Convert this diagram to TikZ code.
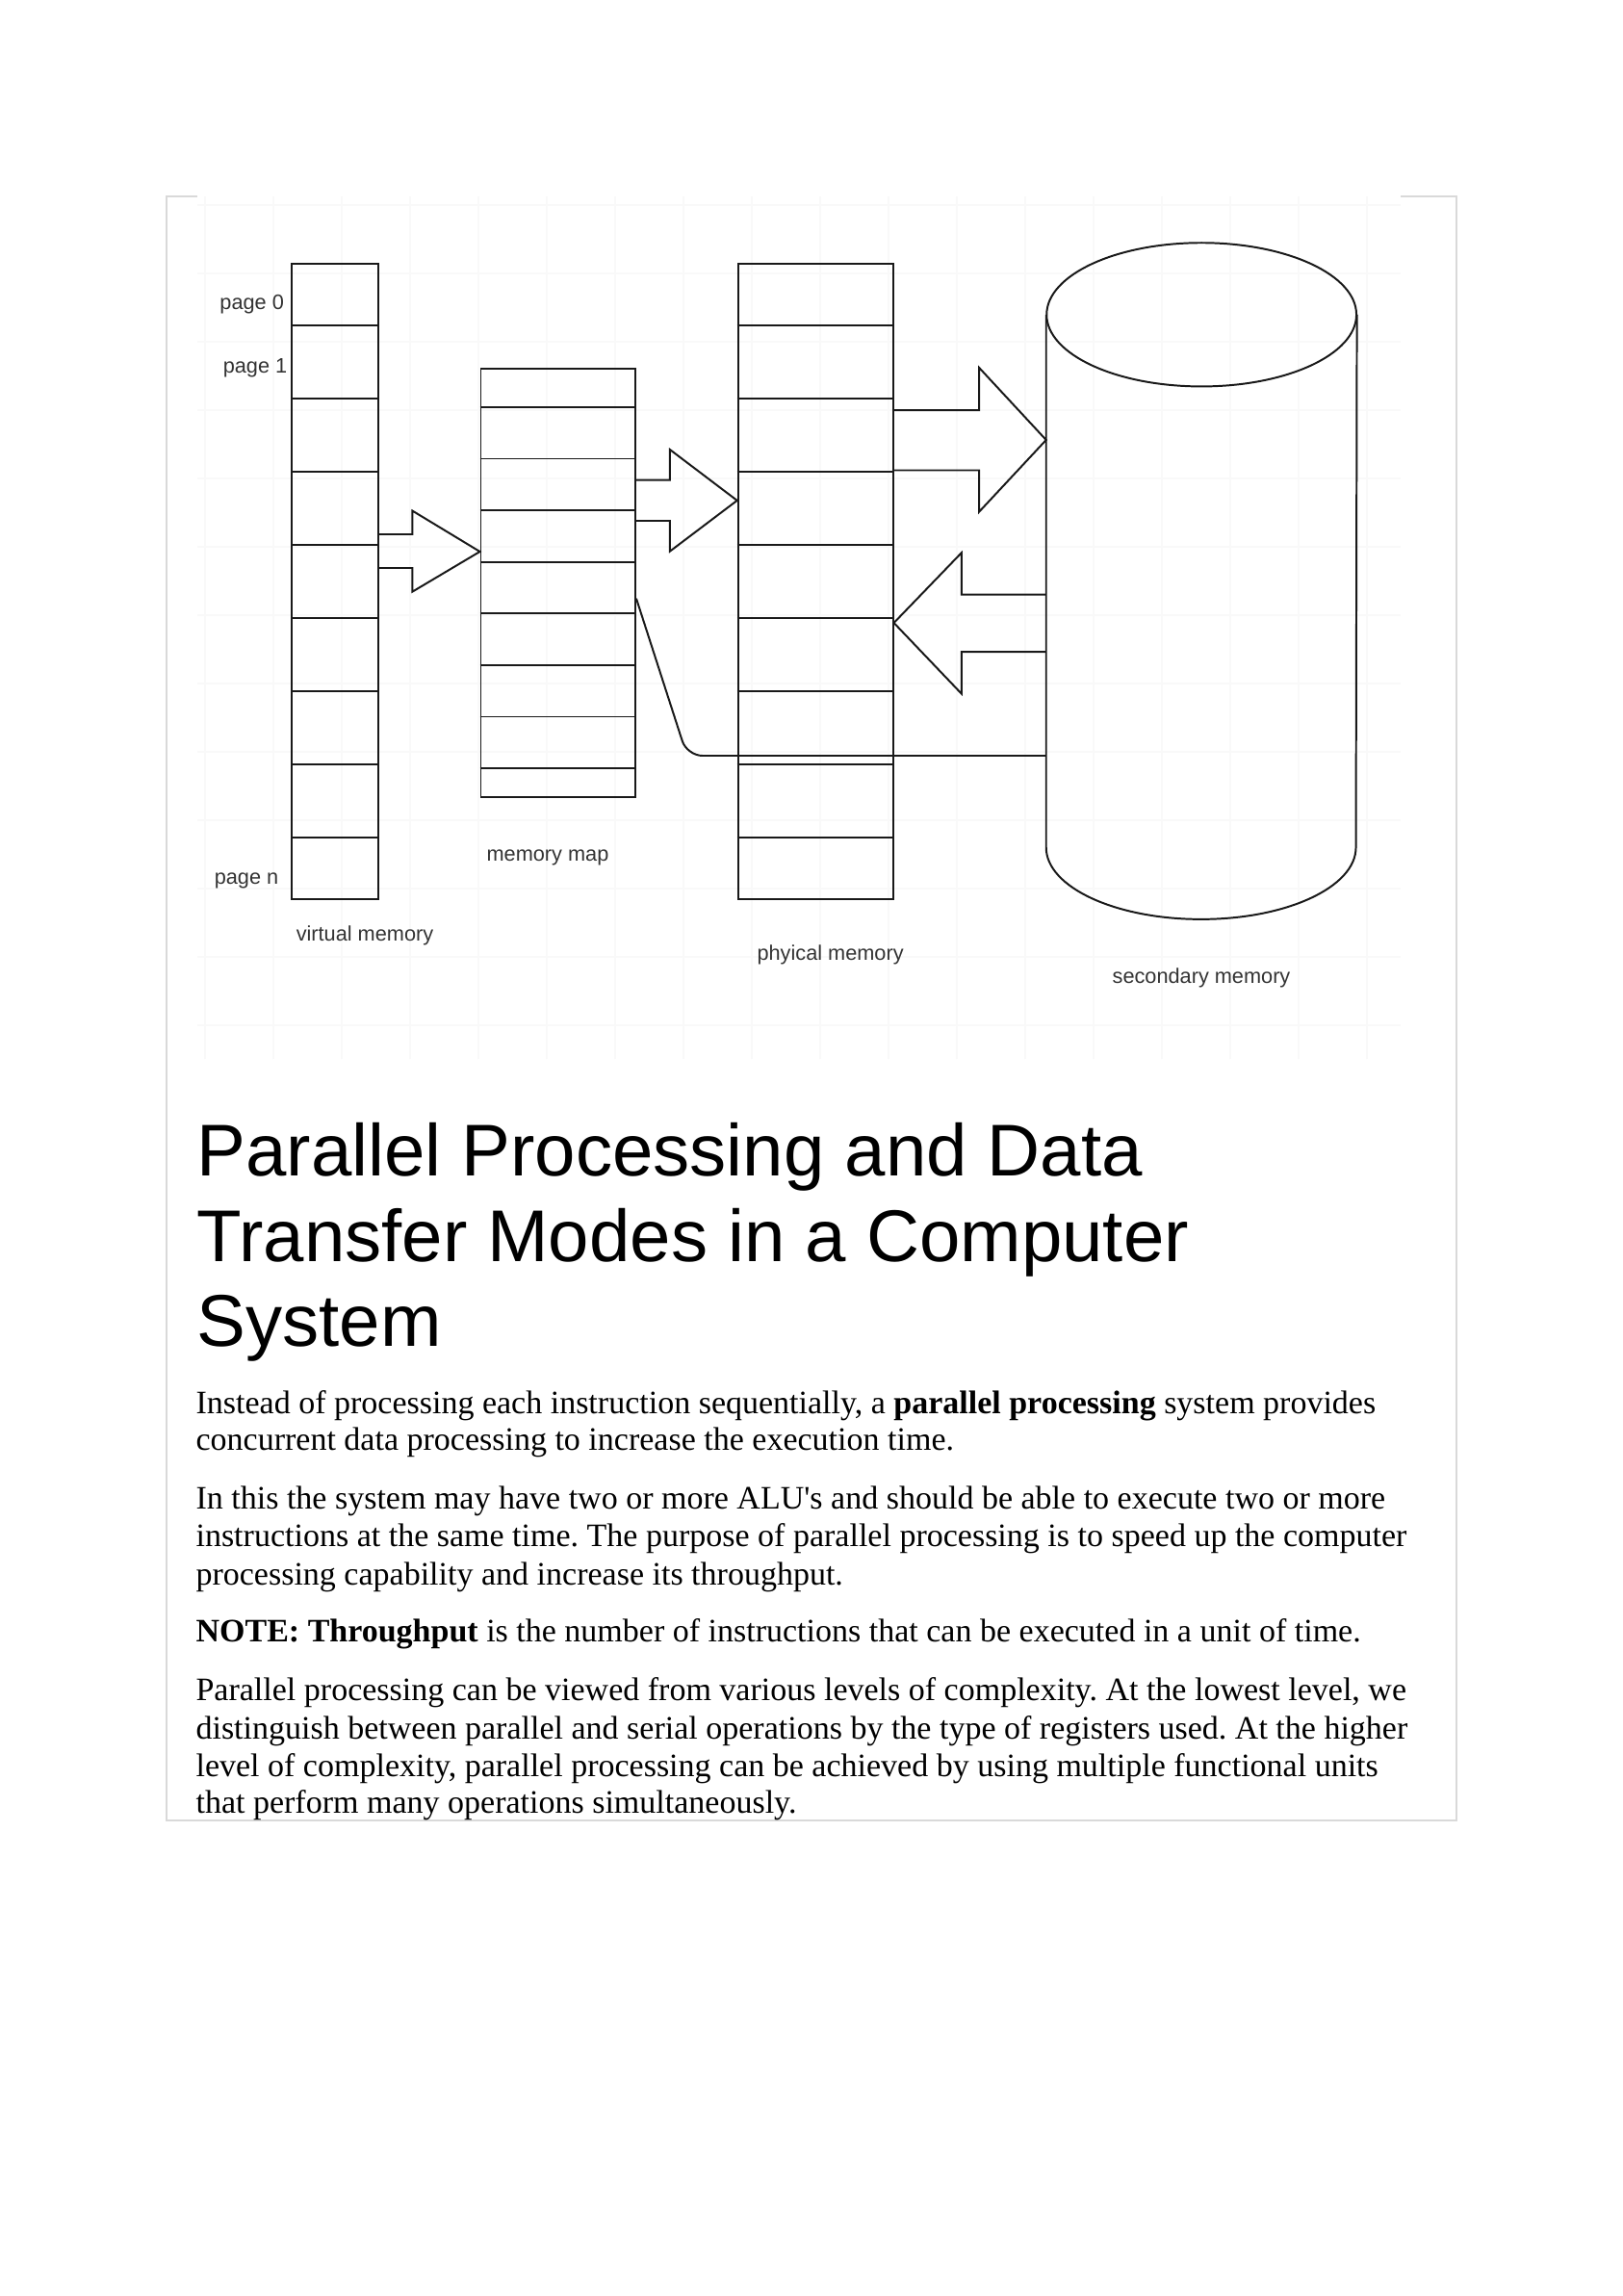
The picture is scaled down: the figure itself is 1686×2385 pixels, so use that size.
\documentclass[tikz,border=0pt]{standalone}
\usepackage{fontspec}
\setmainfont{Liberation Serif}
\newfontfamily\diagfont{Liberation Sans}
\usetikzlibrary{calc}

% one pixel of the page
\def\px{0.12456mm}

\begin{document}
\frenchspacing
\begin{tikzpicture}[x=\px, y=-\px,
        memcol/.style={draw=black!90, line width=0.7pt, inner sep=0pt},
        rowline/.style={draw=black!90, line width=0.7pt},
        blockarrow/.style={draw=black!90, line width=0.7pt, line join=miter},
        link/.style={draw=black!90, line width=0.7pt, rounded corners=2mm},
        lbl/.style={inner sep=0pt, text=black!80, font=\diagfont\fontsize{7.7}{9}\selectfont},
        headline/.style={anchor=base west, inner sep=0pt, font=\diagfont\fontsize{27}{31}\selectfont},
        bodyline/.style={anchor=base west, inner sep=0pt, font=\fontsize{12.05}{14}\selectfont}]

        \fill[white] (0,0) rectangle (1686,2385);
        \useasboundingbox (0,0) rectangle (1686,2385);

        % frame
        \draw[black!15, line width=0.8pt] (173,204) rectangle (1513,1891);
        \fill[white] (205,192) rectangle (1455,1100);
        \draw[black!2.5, line width=0.4pt, step=71*\px] (205,204) grid (1455,1100);

        % columns
        \node[memcol, minimum width=89.4*\px, minimum height=660*\px] (vm) at (348,603.7) {};
        \node[memcol, minimum width=160.5*\px, minimum height=445.3*\px] (mm) at (579.75,605.35) {};
        \node[memcol, minimum width=160.9*\px, minimum height=660*\px] (pm) at (847.15,604) {};
        \node[inner sep=0pt, minimum width=321.7*\px, minimum height=701.5*\px] (sm) at (1248.15,603.55) {};

        \foreach \y in {338,414,490,566,642,718,794,870}
        {
            \draw[rowline] (vm.west |- 0,\y) -- (vm.east |- 0,\y);
            \draw[rowline] (pm.west |- 0,\y) -- (pm.east |- 0,\y);
        }
        \foreach \y in {423,476.5,530,583.6,637.4,691,744.5,798.2}
            \draw[rowline] (mm.west |- 0,\y) -- (mm.east |- 0,\y);

        % cylinder
        \draw[black!90, line width=0.7pt] ($(sm.north)+(0,74.6)$) ellipse [x radius=160.9, y radius=74.6];
        \draw[black!90, line width=0.7pt] ($(sm.north west)+(0,74.6)$) -- ($(sm.south west)+(0,-74.6)$)
            arc[start angle=180, end angle=0, x radius=160.9, y radius=74.6] -- ($(sm.north east)+(0,74.6)$);

        % arrows
        \draw[blockarrow] (vm.east |- 0,555) -- (428.3,555) -- (428.3,530.5) -- (mm.west |- 0,573)
            -- (428.3,614.7) -- (428.3,590) -- (vm.east |- 0,590);
        \draw[blockarrow] (mm.east |- 0,498.7) -- (695.9,498.7) -- (695.9,467) -- (pm.west |- 0,519.9)
            -- (695.9,572.7) -- (695.9,541) -- (mm.east |- 0,541);
        \draw[blockarrow] (pm.east |- 0,426.2) -- (1017,426.2) -- (1017,381.8) -- (sm.west |- 0,457)
            -- (1017,531.8) -- (1017,488.5) -- (pm.east |- 0,488.5);
        \draw[blockarrow] (sm.west |- 0,617.6) -- (998.8,617.6) -- (998.8,574.2) -- (pm.east |- 0,647)
            -- (998.8,720.6) -- (998.8,677.2) -- (sm.west |- 0,677.2);

        \draw[link] (mm.east |- 0,621.7) -- (713.7,785) -- (sm.west |- 0,785);

        % labels
        \node[lbl] (p0) at (261.7,316) {page 0};
        \node[lbl] (p1) at (265,382) {page 1};
        \node[lbl] (pn) at (256,914.5) {page n};
        \node[lbl] (vmlbl) at (379,971.5) {virtual memory};
        \node[lbl] (mmlbl) at (569,890.7) {memory map};
        \node[lbl] (pmlbl) at (862.6,992.3) {phyical memory};
        \node[lbl] (smlbl) at (1248,1016.3) {secondary memory};

        % heading
        \node[headline] (h1) at (204,1221.7) {Parallel Processing and Data};
        \node[headline] (h2) at (204,1310) {Transfer Modes in a Computer};
        \node[headline] (h3) at (204,1398.5) {System};

        % text
        \foreach \y/\t [count=\i] in {
            1468/{Instead of processing each instruction sequentially, a \textbf{parallel processing} system provides},
            1506/{concurrent data processing to increase the execution time.},
            1567.5/{In this the system may have two or more ALU\textquotesingle s and should be able to execute two or more},
            1606.5/{instructions at the same time. The purpose of parallel processing is to speed up the computer},
            1646/{processing capability and increase its throughput.},
            1705/{\textbf{NOTE: Throughput} is the number of instructions that can be executed in a unit of time.},
            1766.5/{Parallel processing can be viewed from various levels of complexity. At the lowest level, we},
            1806.3/{distinguish between parallel and serial operations by the type of registers used. At the higher},
            1845.5/{level of complexity, parallel processing can be achieved by using multiple functional units},
            1883.9/{that perform many operations simultaneously.}}
            \node[bodyline] (body\i) at (203,\y) {\t};

    \end{tikzpicture}
\end{document}
